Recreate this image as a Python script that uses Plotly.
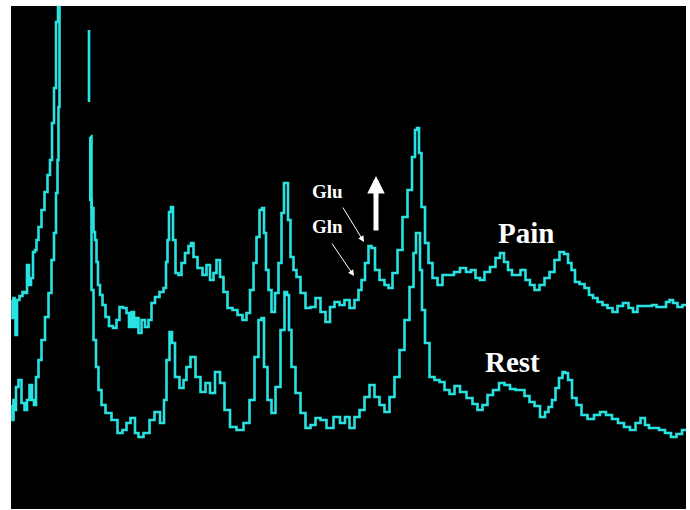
import plotly.graph_objects as go

# Spectrum traces (x position along the spectrum, y = offset from top of panel; axis reversed)
pain_x = [12, 13, 14, 15, 16, 18, 21, 24, 26, 28, 30, 32, 34, 36, 37, 40, 43, 46, 49, 51, 53, 55, 57, 59,
          75,
          89, 89,
          89.5,
          90, 90.5, 93, 94, 96, 97, 99, 101, 104, 107, 111, 115, 118, 121, 125, 128, 130, 133, 135, 137,
          140, 143, 147, 150, 153, 157, 162, 165, 167, 168, 170, 172, 174, 177, 180, 183, 187, 190, 192,
          195, 200, 205, 208, 212, 215, 218, 222, 225, 230, 235, 240, 245, 248, 252, 255, 258, 261, 263,
          265, 267, 270, 273, 277, 280, 283, 285, 287, 289, 292, 295, 298, 303, 308, 313, 318, 323, 328,
          332, 337, 342, 347, 352, 357, 360, 363, 367, 370, 373, 377, 382, 387, 390, 395, 400, 405, 410,
          414, 416, 418, 420, 423, 427, 430, 435, 440, 445, 451, 457, 463, 469, 473, 478, 482, 487, 493,
          498, 502, 506, 510, 514, 518, 523, 528, 532, 537, 542, 547, 552, 557, 562, 566, 570, 573, 577,
          582, 587, 591, 595, 600, 605, 610, 615, 620, 626, 631, 635, 640, 645, 650, 654, 659, 664, 668,
          671, 675, 680, 685, 690]
pain_y = [300, 318, 298, 305, 335, 300, 296, 292, 293, 265, 285, 278, 252, 250, 240, 227, 210, 192, 175, 160, 123, 88, 22, -50,
          None,
          30, 102,
          None,
          137, 200, 208, 232, 240, 262, 285, 295, 305, 317, 326, 328, 320, 307, 308, 313, 327, 312, 327, 318,
          333, 320, 327, 320, 303, 297, 292, 288, 262, 240, 212, 207, 240, 273, 275, 263, 253, 246, 243,
          257, 268, 275, 265, 280, 273, 260, 277, 292, 308, 310, 315, 320, 313, 290, 263, 237, 210, 208,
          233, 270, 290, 312, 293, 263, 213, 183, 183, 220, 257, 270, 277, 293, 308, 307, 298, 312, 322,
          307, 302, 305, 300, 308, 300, 290, 280, 263, 246, 248, 270, 280, 285, 288, 273, 250, 217, 190,
          157, 130, 128, 153, 207, 243, 263, 278, 285, 275, 275, 272, 268, 272, 270, 278, 280, 272, 267,
          258, 253, 262, 270, 275, 275, 270, 280, 285, 290, 285, 278, 272, 260, 252, 254, 263, 270, 282,
          284, 288, 295, 298, 302, 305, 308, 312, 306, 303, 308, 312, 306, 306, 306, 305, 307, 307, 302,
          300, 303, 307, 305, 306]

rest_x = [12, 13, 14, 15, 17, 20, 23, 26, 28, 31, 33, 35, 37, 40, 43, 47, 50, 53, 55, 57, 58, 59, 60,
          75,
          91, 92, 95, 97, 100, 103, 108, 115, 120, 125, 128, 133, 137, 140, 147, 152, 157, 163, 165, 168,
          171, 173, 177, 182, 185, 188, 193, 198, 203, 208, 212, 218, 222, 227, 233, 240, 247, 252, 257,
          260, 263, 265, 270, 273, 278, 283, 286, 288, 290, 293, 298, 303, 308, 313, 318, 323, 330, 337,
          343, 347, 352, 357, 362, 367, 372, 377, 382, 387, 392, 397, 402, 407, 412, 415, 417, 419, 421,
          423, 427, 432, 437, 442, 447, 452, 457, 463, 470, 475, 480, 485, 490, 496, 502, 507, 513, 518,
          522, 527, 532, 537, 543, 547, 550, 554, 557, 561, 564, 566, 570, 574, 579, 584, 591, 597, 603,
          609, 615, 621, 627, 633, 638, 643, 647, 651, 656, 662, 668, 674, 679, 685, 690]
rest_y = [405, 420, 400, 410, 387, 380, 403, 410, 400, 385, 400, 405, 377, 360, 340, 317, 293, 260, 233, 193, 160, 107, -50,
          None,
          136, 290, 340, 367, 390, 405, 413, 420, 433, 430, 423, 418, 433, 437, 433, 420, 412, 423, 400, 360,
          332, 343, 377, 388, 380, 367, 357, 377, 392, 383, 393, 372, 383, 410, 427, 430, 423, 400, 357,
          320, 318, 367, 400, 413, 387, 330, 292, 295, 330, 367, 393, 413, 428, 425, 418, 420, 428, 417,
          423, 417, 428, 417, 410, 397, 385, 397, 405, 412, 397, 377, 350, 320, 287, 253, 233, 233, 270,
          310, 343, 377, 380, 382, 390, 394, 386, 392, 398, 404, 410, 405, 395, 390, 383, 385, 389, 390,
          390, 396, 402, 406, 417, 412, 407, 400, 388, 378, 372, 373, 380, 398, 405, 415, 419, 415, 412,
          415, 419, 423, 427, 430, 423, 418, 425, 428, 428, 430, 433, 437, 434, 430, 428]

series_labels = ["Pain", "Rest"]
metabolite_labels = ["Glu", "Gln"]

CYAN = "rgb(40,226,226)"

fig = go.Figure()
for xs, ys, name in [(pain_x, pain_y, series_labels[0]), (rest_x, rest_y, series_labels[1])]:
    fig.add_trace(go.Scatter(x=xs, y=ys, mode="lines", name=name,
                             line=dict(color=CYAN, width=2.6, shape="hvh"),
                             connectgaps=False, hoverinfo="skip"))

serif = "Liberation Serif, Times New Roman, serif"
annotations = [
    dict(x=327, y=191, text="<b>" + metabolite_labels[0] + "</b>", showarrow=False,
         font=dict(family=serif, size=19, color="white")),
    dict(x=327, y=226, text="<b>" + metabolite_labels[1] + "</b>", showarrow=False,
         font=dict(family=serif, size=19, color="white")),
    dict(x=364, y=242, ax=342, ay=206, xref="x", yref="y", axref="x", ayref="y",
         text="", showarrow=True, arrowhead=2, arrowsize=1.2, arrowwidth=1, arrowcolor="white"),
    dict(x=354, y=276, ax=331, ay=242, xref="x", yref="y", axref="x", ayref="y",
         text="", showarrow=True, arrowhead=2, arrowsize=1.2, arrowwidth=1, arrowcolor="white"),
    dict(x=376, y=176, ax=376, ay=232, xref="x", yref="y", axref="x", ayref="y",
         text="", showarrow=True, arrowhead=2, arrowsize=0.7, arrowwidth=5, arrowcolor="white"),
    dict(x=526, y=233, text="<b>" + series_labels[0] + "</b>", showarrow=False,
         font=dict(family=serif, size=29, color="white")),
    dict(x=512, y=362, text="<b>" + series_labels[1] + "</b>", showarrow=False,
         font=dict(family=serif, size=29, color="white")),
]

fig.update_layout(
    width=690, height=510,
    margin=dict(l=11, r=4, t=6, b=1),
    paper_bgcolor="white", plot_bgcolor="black",
    showlegend=False,
    xaxis=dict(range=[11, 686], visible=False, fixedrange=True),
    yaxis=dict(range=[509, 6], visible=False, fixedrange=True),
    annotations=annotations,
)

fig.write_html("out.html", config={"displayModeBar": False},
               post_script="document.body.style.margin='0';document.body.style.overflow='hidden';")
